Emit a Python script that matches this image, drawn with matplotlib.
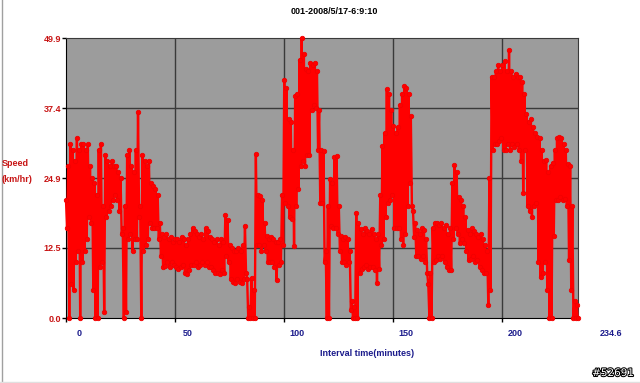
import numpy as np
import matplotlib.pyplot as plt
import matplotlib.patheffects as pe
from matplotlib.lines import Line2D

# speed envelope, one pair per minute (high, low) in km/hr
minutes = list(range(0, 235))
speed_hi = [21, 27, 31, 30, 28, 32, 30, 31, 31, 30,
            31, 27, 25, 24, 22, 30, 31, 20, 29, 28,
            27, 28, 27, 27, 26, 25, 16, 20, 29, 30,
            27, 26, 30, 36.7, 20, 29, 28, 27, 28, 24,
            23.6, 23, 22, 17, 15, 14.5, 15, 14, 14.5, 13.5,
            14, 14, 13.5, 14.5, 14, 13, 14, 15, 16, 15.5,
            15, 14.5, 15, 14, 16, 15.5, 14.5, 14, 13.5, 14,
            13, 14, 13.5, 18.4, 17.5, 13, 12.5, 12, 12, 12.5,
            12, 13, 16.4, 7, 2, 7.2, 5, 29.2, 22, 21.7,
            21, 17, 14.6, 14, 14.5, 14, 13.5, 13.5, 14, 22,
            42.5, 41, 35.4, 35, 30, 39.6, 40, 46, 49.9, 47,
            44.3, 44, 45.5, 45, 45.5, 44, 37, 30, 29.7, 12,
            20, 24.7, 24, 28.7, 28.9, 20, 14.6, 14, 14.5, 14,
            12, 3, 2, 18.8, 17, 15.8, 15, 16, 15.5, 15,
            15.8, 15, 14, 15, 22, 30.7, 33, 40.8, 40, 37,
            34.2, 33, 34, 38, 40, 41.4, 41, 40, 36, 19,
            17, 15.7, 15, 16, 15.7, 14, 6, 8, 16, 17,
            17, 16.5, 17, 16, 16.5, 15, 16, 24, 27.2, 26,
            21.6, 21, 20, 18, 15.7, 15, 16, 15.5, 15, 14.5,
            15, 14, 13, 12, 25, 43, 43, 44, 45, 44,
            45, 45.8, 44, 47.8, 44, 43, 43.5, 43, 43, 42,
            40, 36.4, 35, 35.4, 34, 33, 32.3, 32, 30, 28,
            28.1, 26, 27, 27.7, 30, 32, 32.3, 32, 31, 30,
            27.5, 27, 20, 3, 2.4]
speed_lo = [16, 0, 6, 5, 10, 12, 0, 10, 12, 14,
            18, 17, 5, 0, 0, 9, 10, 1, 18, 19,
            20, 21, 22, 21, 19, 15, 0, 1, 14, 15,
            12, 14, 14, 18, 0, 12, 13, 14, 17, 16,
            16, 16, 14, 11, 9, 9.3, 10, 9, 10, 9.5,
            9, 8.7, 9, 9.5, 8, 7.8, 8.5, 9.5, 9.5, 10,
            9, 9.5, 10, 9.5, 10, 9, 9, 8.5, 8, 8,
            7.8, 8.5, 8, 11, 10, 7, 6.5, 6.2, 7, 6.5,
            6.2, 7, 8, 0, 0, 0, 0, 13, 13, 12,
            13, 12, 10, 9.9, 10, 9, 6.7, 9.5, 10, 13,
            20.5, 20, 18, 17.6, 12.8, 20, 23, 27, 28, 27,
            29, 29, 37, 38, 37.4, 30, 20.5, 20.5, 10, 0,
            0, 16.4, 16, 16, 15, 12, 9.9, 10, 9.5, 10,
            1.5, 0, 0, 0, 8, 8.7, 9, 9.5, 8.7, 9,
            9, 8.5, 6.2, 8.7, 13, 14, 18, 20.5, 21, 22,
            16, 16, 16, 14, 13, 15, 20, 24, 20, 14.5,
            11, 11, 10.5, 11, 10, 8, 0, 0, 10, 10.3,
            11, 10.5, 11, 10, 9, 8.5, 8.5, 14, 16, 15,
            13.3, 14, 13.3, 12, 10.3, 10.5, 11, 10, 10.3, 9,
            8.5, 8, 8, 2.3, 5, 30, 31, 31, 31.6, 32,
            30, 30, 31, 30, 31, 30.5, 31, 30, 28, 22.3,
            30, 20, 19, 18, 20, 20.5, 10, 7.3, 8, 10,
            5, 0, 0, 14.6, 21, 21, 21.6, 21, 21.2, 20,
            10.3, 5, 0, 0, 0]

ytick_vals = [0.0, 12.5, 24.9, 37.4, 49.9]
ytick_labels = ["0.0", "12.5", "24.9", "37.4", "49.9"]
xtick_vals = [0, 50, 100, 150, 200]
xtick_labels = ["0", "50", "100", "150", "200"]
x_end = 234.6

# interleave high and low readings half a minute apart
t = []
v = []
for m, hi, lo in zip(minutes, speed_hi, speed_lo):
    t += [m, m + 0.5]
    v += [hi, lo]
t[-1] = min(t[-1], x_end)

red_lbl = "#c81414"
navy = "#1c1c8c"
font = "Liberation Sans"

fig = plt.figure(figsize=(6.4, 3.83), dpi=100)
ax = fig.add_axes([66 / 640, 65 / 383, 512 / 640, 280 / 383])
ax.set_facecolor("#9c9c9c")

ax.plot(t, v, color="#ff0000", lw=1.7, marker="o", ms=3.2, mec="#f20000",
        mfc="#ff0000", mew=0.6, zorder=3, clip_on=False)

ax.set_xlim(0, x_end)
ax.set_ylim(0, 49.9)

for x in xtick_vals[1:]:
    ax.axvline(x, color="#3a3a3a", lw=1.0, zorder=1)
for y in ytick_vals[1:4]:
    ax.axhline(y, color="#3a3a3a", lw=1.0, zorder=1)

for side in ["left", "bottom"]:
    ax.spines[side].set_color("black")
for side in ["top", "right"]:
    ax.spines[side].set_color("#3a3a3a")

ax.set_yticks(ytick_vals)
ax.set_yticklabels(ytick_labels, fontsize=6.5, fontweight="bold",
                   color=red_lbl, family=font)
ax.tick_params(axis="y", length=3, width=1, pad=0.5, color="black")
ax.set_xticks(xtick_vals)
ax.set_xticklabels([])
ax.tick_params(axis="x", length=3, width=1, color="black")

for x, lab in zip(xtick_vals, xtick_labels):
    ax.annotate(lab, xy=(x, 0), xycoords=("data", "axes fraction"),
                xytext=(13, -16), textcoords="offset pixels", ha="center",
                va="center", fontsize=6.5, fontweight="bold", color=navy,
                family=font, annotation_clip=False)
ax.annotate("234.6", xy=(x_end, 0), xycoords=("data", "axes fraction"),
            xytext=(33, -16), textcoords="offset pixels", ha="center",
            va="center", fontsize=6.5, fontweight="bold", color=navy,
            family=font, annotation_clip=False)

fig.text(334 / 640, 1 - 11 / 383, "001-2008/5/17-6:9:10", ha="center",
         va="center", fontsize=6.5, fontweight="bold", color="black", family=font)
fig.text(2 / 640, 1 - 163 / 383, "Speed", ha="left", va="center",
         fontsize=6.5, fontweight="bold", color=red_lbl, family=font)
fig.text(1 / 640, 1 - 180 / 383, "(km/hr)", ha="left", va="center",
         fontsize=6.5, fontweight="bold", color=red_lbl, family=font)
fig.text(367 / 640, 1 - 354 / 383, "Interval time(minutes)", ha="center",
         va="center", fontsize=6.5, fontweight="bold", color=navy, family=font)

wm = fig.text(634 / 640, 1 - 373 / 383, "#52691", ha="right", va="center",
              fontsize=7.5, color="white", family="DejaVu Sans")
wm.set_path_effects([pe.withStroke(linewidth=1.5, foreground="black")])

fig.add_artist(Line2D([1.5 / 640, 1.5 / 640], [0.005, 1], color="#a0a0a0",
                      lw=1, transform=fig.transFigure))
fig.add_artist(Line2D([0, 1], [1.5 / 383, 1.5 / 383], color="#e0e0e0",
                      lw=1, transform=fig.transFigure))

fig.savefig("out.png", dpi=100)
